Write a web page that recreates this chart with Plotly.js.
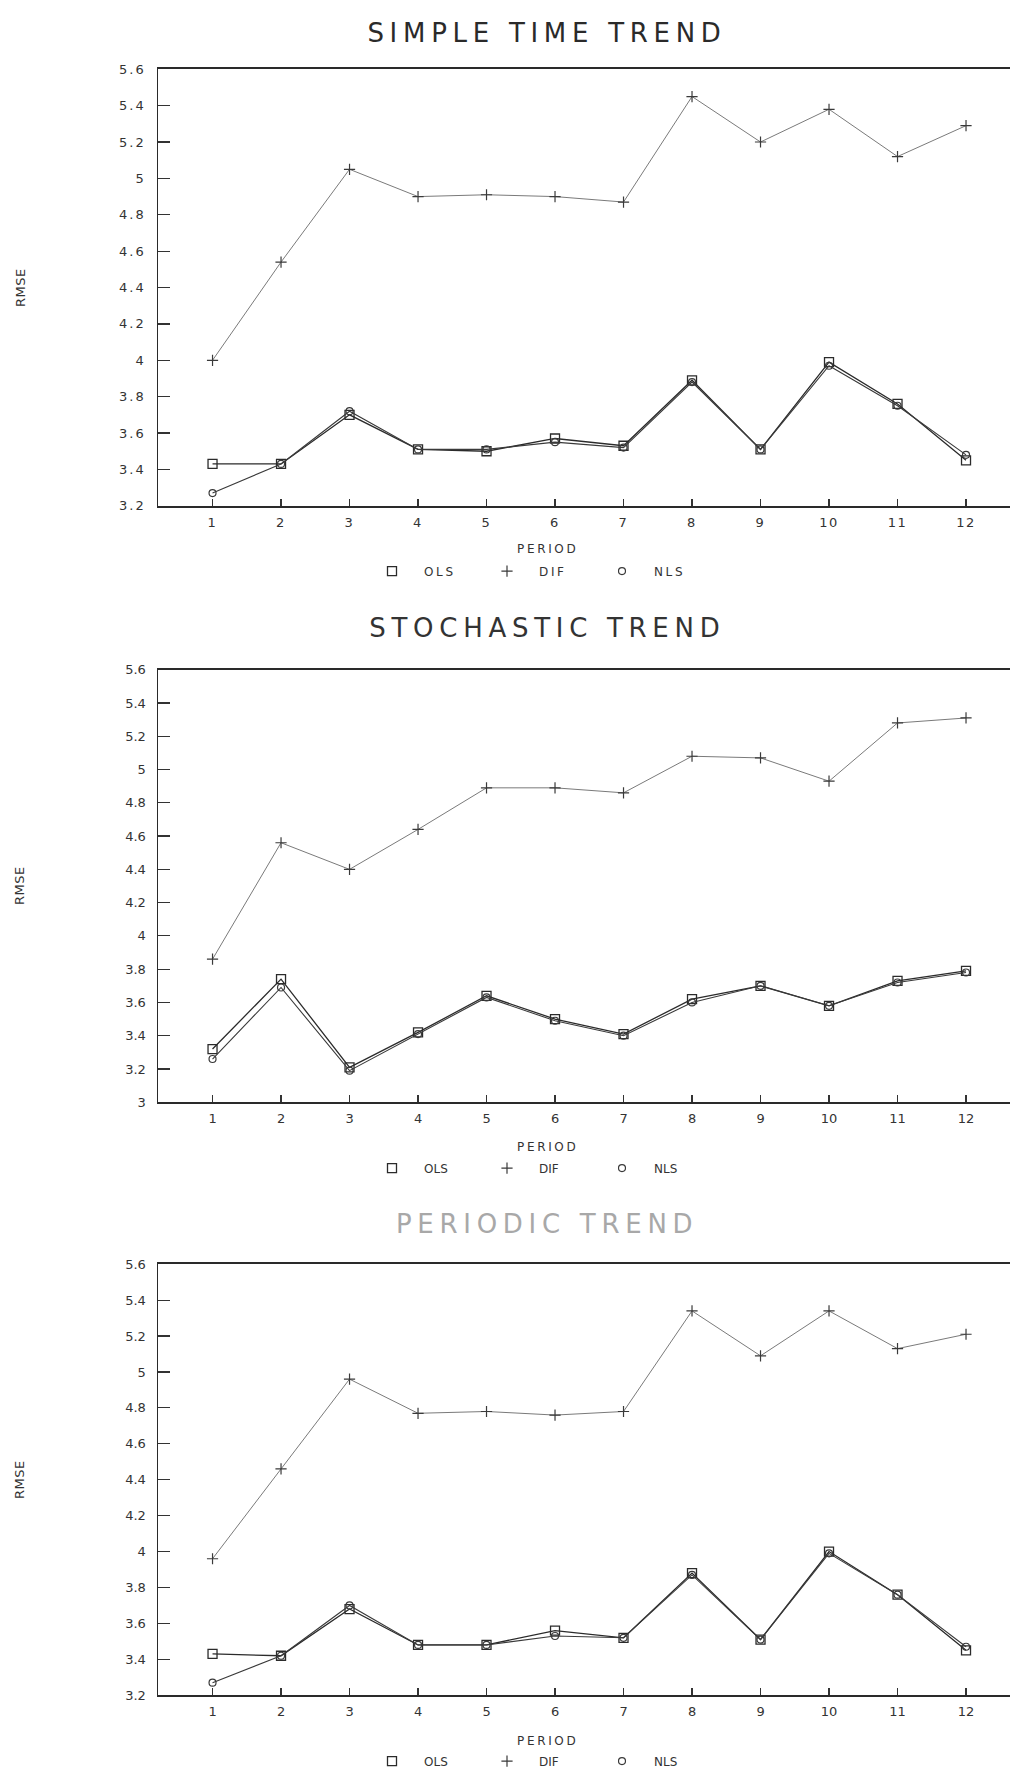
<!DOCTYPE html>
<html>
<head>
<meta charset="utf-8">
<script src="https://cdn.plot.ly/plotly-3.0.1.min.js"></script>
<style>
html,body{margin:0;padding:0;background:#fff;}
#chart{width:1010px;height:1776px;}
.ytick text{letter-spacing:0.16em;}
.xtick text{letter-spacing:0.12em;}
.legend text{letter-spacing:0.22em;}
.legendlines{display:none;}
.annotation text{letter-spacing:0.22em;}
.annotation[data-index="6"] text,.annotation[data-index="7"] text,.annotation[data-index="8"] text{letter-spacing:0.04em;}
</style>
</head>
<body>
<div id="chart"></div>
<script>
// ---- data ----
const periods = [1,2,3,4,5,6,7,8,9,10,11,12];
const periodLabels = ['1','2','3','4','5','6','7','8','9','10','11','12'];

const simpleOLS = [3.43,3.43,3.70,3.51,3.50,3.57,3.53,3.89,3.51,3.99,3.76,3.45];
const simpleDIF = [4.00,4.54,5.05,4.90,4.91,4.90,4.87,5.45,5.20,5.38,5.12,5.29];
const simpleNLS = [3.27,3.43,3.72,3.51,3.51,3.55,3.52,3.88,3.51,3.97,3.75,3.48];

const stochOLS = [3.32,3.74,3.21,3.42,3.64,3.50,3.41,3.62,3.70,3.58,3.73,3.79];
const stochDIF = [3.86,4.56,4.40,4.64,4.89,4.89,4.86,5.08,5.07,4.93,5.28,5.31];
const stochNLS = [3.26,3.69,3.19,3.41,3.63,3.49,3.40,3.60,3.70,3.58,3.72,3.78];

const periodicOLS = [3.43,3.42,3.68,3.48,3.48,3.56,3.52,3.88,3.51,4.00,3.76,3.45];
const periodicDIF = [3.96,4.46,4.96,4.77,4.78,4.76,4.78,5.34,5.09,5.34,5.13,5.21];
const periodicNLS = [3.27,3.42,3.70,3.48,3.48,3.53,3.52,3.87,3.51,3.99,3.76,3.47];

const ticksA = [3.2,3.4,3.6,3.8,4,4.2,4.4,4.6,4.8,5,5.2,5.4,5.6];
const ticksAText = ['3.2','3.4','3.6','3.8','4','4.2','4.4','4.6','4.8','5','5.2','5.4','5.6'];
const ticksB = [3,3.2,3.4,3.6,3.8,4,4.2,4.4,4.6,4.8,5,5.2,5.4,5.6];
const ticksBText = ['3','3.2','3.4','3.6','3.8','4','4.2','4.4','4.6','4.8','5','5.2','5.4','5.6'];

const titles = ['SIMPLE TIME TREND','STOCHASTIC TREND','PERIODIC TREND'];
const seriesNames = ['OLS','DIF','NLS'];

// ---- layout helpers ----
const W = 1010, H = 1776;
const px = v => v / W;
const py = v => 1 - v / H;
const FONT = "'DejaVu Sans', Verdana, sans-serif";
const TITLEFONT = "'DejaVu Sans ExtraLight', 'DejaVu Sans', sans-serif";

const panels = [
  {ols: simpleOLS, dif: simpleDIF, nls: simpleNLS, top: 69.5, bottom: 507.5, range: [3.2,5.6], tv: ticksA, tt: ticksAText,
   titleY: 33, titleColor: '#2a2a2a', periodY: 551, legY: 573, ramseY: 289},
  {ols: stochOLS, dif: stochDIF, nls: stochNLS, top: 672, bottom: 1106, range: [3,5.6], tv: ticksB, tt: ticksBText,
   titleY: 630, titleColor: '#333333', periodY: 1151, legY: 1172, ramseY: 889},
  {ols: periodicOLS, dif: periodicDIF, nls: periodicNLS, top: 1268.5, bottom: 1701, range: [3.2,5.6], tv: ticksA, tt: ticksAText,
   titleY: 1228, titleColor: '#a8a8a8', periodY: 1747, legY: 1767, ramseY: 1485}
];

const traces = [];
const layout = {
  width: W, height: H,
  margin: {l:0, r:0, t:0, b:0},
  paper_bgcolor: '#ffffff',
  plot_bgcolor: '#ffffff',
  font: {family: FONT, color: '#333333', size: 12},
  showlegend: true,
  annotations: []
};

panels.forEach((p, i) => {
  const n = i === 0 ? '' : String(i + 1);
  const xa = 'x' + n, ya = 'y' + n;
  const leg = 'legend' + n;
  traces.push({
    x: periods, y: p.ols, xaxis: xa, yaxis: ya, legend: leg,
    name: seriesNames[0], mode: 'lines+markers', type: 'scatter',
    line: {color: '#2b2b2b', width: 1.3},
    marker: {symbol: 'square-open', size: 9, color: '#2b2b2b', line: {width: 1.3}}
  });
  traces.push({
    x: periods, y: p.dif, xaxis: xa, yaxis: ya, legend: leg,
    name: seriesNames[1], mode: 'lines+markers', type: 'scatter',
    line: {color: '#7a7a7a', width: 1},
    marker: {symbol: 'cross-thin-open', size: 8, color: '#3a3a3a', line: {width: 1.2}}
  });
  traces.push({
    x: periods, y: p.nls, xaxis: xa, yaxis: ya, legend: leg,
    name: seriesNames[2], mode: 'lines+markers', type: 'scatter',
    line: {color: '#3a3a3a', width: 1.1},
    marker: {symbol: 'circle-open', size: 7, color: '#3a3a3a', line: {width: 1.2}}
  });

  layout['xaxis' + n] = {
    domain: [px(158), 1], range: [0.204, 12.642], anchor: ya,
    tickmode: 'array', tickvals: periods, ticktext: periodLabels,
    ticks: 'inside', ticklen: 7, tickwidth: 1.2, tickcolor: '#333',
    showline: true, linecolor: '#2a2a2a', linewidth: 2.2, mirror: true,
    showgrid: false, zeroline: false, ticklabelstandoff: 3,
    tickfont: {family: FONT, size: 13, color: '#333'}, fixedrange: true
  };
  layout['yaxis' + n] = {
    domain: [py(p.bottom), py(p.top)], range: p.range, anchor: xa,
    tickmode: 'array', tickvals: p.tv, ticktext: p.tt,
    ticks: 'inside', ticklen: 12, tickwidth: 1.2, tickcolor: '#333',
    showline: true, linecolor: '#2a2a2a', linewidth: 1.5,
    showgrid: false, zeroline: false, ticklabelstandoff: 8,
    tickfont: {family: FONT, size: 13, color: '#333'}, fixedrange: true
  };
  layout[leg] = {
    orientation: 'h', x: px(360), xanchor: 'left', y: py(p.legY), yanchor: 'middle',
    bgcolor: 'rgba(0,0,0,0)', borderwidth: 0,
    font: {family: FONT, size: 12, color: '#333'},
    entrywidth: 46, entrywidthmode: 'pixels', itemwidth: 54
  };
});

// titles (0-2), PERIOD labels (3-5), RMSE labels (6-8)
panels.forEach((p, i) => {
  layout.annotations.push({
    text: titles[i], xref: 'paper', yref: 'paper', x: px(547), y: py(p.titleY),
    xanchor: 'center', yanchor: 'middle', showarrow: false,
    font: {family: TITLEFONT, size: 26, color: p.titleColor}
  });
});
panels.forEach((p, i) => {
  layout.annotations.push({
    text: 'PERIOD', xref: 'paper', yref: 'paper', x: px(547), y: py(p.periodY),
    xanchor: 'center', yanchor: 'middle', showarrow: false,
    font: {family: FONT, size: 12, color: '#333'}
  });
});
panels.forEach((p, i) => {
  layout.annotations.push({
    text: 'RMSE', xref: 'paper', yref: 'paper', x: px(20), y: py(p.ramseY),
    xanchor: 'center', yanchor: 'middle', showarrow: false, textangle: -90,
    font: {family: FONT, size: 13, color: '#333'}
  });
});

Plotly.newPlot('chart', traces, layout, {displayModeBar: false, staticPlot: true});
</script>
</body>
</html>
